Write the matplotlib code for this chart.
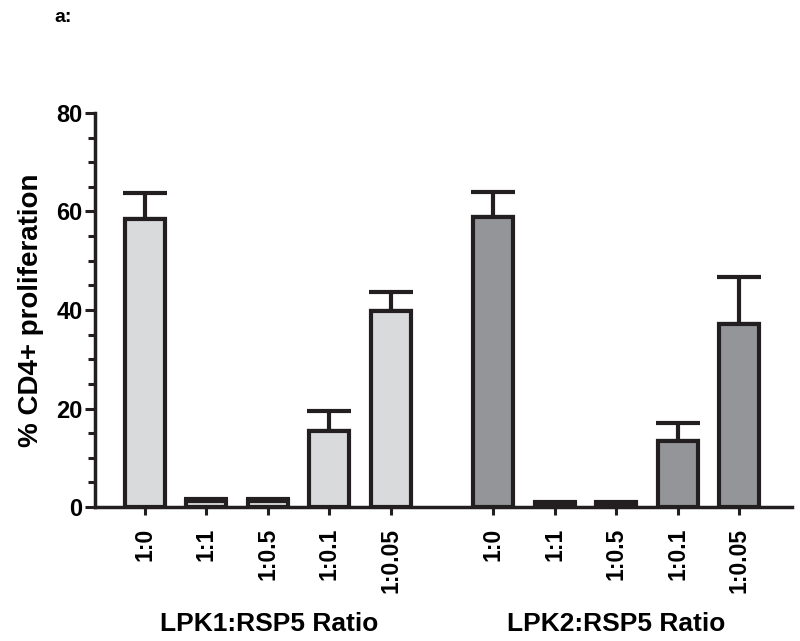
import numpy as np
import matplotlib
matplotlib.use('Agg')
import matplotlib.pyplot as plt
from matplotlib.ticker import MultipleLocator

plt.rcParams['font.family'] = ['Liberation Sans', 'DejaVu Sans']
plt.rcParams['font.weight'] = 'bold'

ratios = ['1:0', '1:1', '1:0.5', '1:0.1', '1:0.05']
lpk1_vals = [58.5, 1.3, 1.3, 15.4, 39.7]
lpk1_err = [5.3, 0.3, 0.3, 4.1, 3.9]
lpk2_vals = [58.9, 0.9, 0.9, 13.3, 37.2]
lpk2_err = [5.1, 0.2, 0.2, 3.7, 9.4]
group_labels = ['LPK1:RSP5 Ratio', 'LPK2:RSP5 Ratio']

edge = '#231f20'
light = '#d9dadc'
dark = '#939598'

fig = plt.figure(figsize=(8, 6.41), dpi=100)
ax = fig.add_axes([95/800, 1 - 507/641, (792 - 95)/800, (507 - 113)/641])

x1 = np.arange(5)
x2 = np.arange(5) + 5.66
w = 0.65

for xs, vals, err, col in [(x1, lpk1_vals, lpk1_err, light), (x2, lpk2_vals, lpk2_err, dark)]:
    # only the upper half of the error bar shows; the lower cap hides behind the bar
    ax.errorbar(xs, vals, yerr=[np.zeros(5), err], fmt='none', ecolor=edge,
                elinewidth=3, capsize=16, capthick=3, zorder=1)
    ax.bar(xs, vals, width=w, color=col, edgecolor=edge, linewidth=3, zorder=2)

ax.set_xlim(-0.81, 10.52)
ax.set_ylim(0, 80)
ax.yaxis.set_major_locator(MultipleLocator(20))
ax.yaxis.set_minor_locator(MultipleLocator(5))
ax.set_xticks(np.concatenate([x1, x2]))
ax.set_xticklabels(ratios + ratios, rotation=90, fontsize=16.5, fontweight='bold')
for t in ax.get_yticklabels():
    t.set_fontsize(17)
    t.set_fontweight('bold')

for s in ['top', 'right']:
    ax.spines[s].set_visible(False)
for s in ['left', 'bottom']:
    ax.spines[s].set_linewidth(2.5)
    ax.spines[s].set_color(edge)
ax.tick_params(axis='y', which='major', length=7, width=2.2, color=edge, pad=2)
ax.tick_params(axis='y', which='minor', length=5, width=2.2, color=edge)
ax.tick_params(axis='x', length=6, width=2.2, color=edge, pad=9)

ax.set_ylabel('% CD4+ proliferation', fontsize=20, fontweight='bold', labelpad=9)

fig.text(269/800, 1 - 624/641, group_labels[0], ha='center', va='center', fontsize=19, fontweight='bold')
fig.text(616/800, 1 - 624/641, group_labels[1], ha='center', va='center', fontsize=19, fontweight='bold')
fig.text(54/800, 1 - 18/641, 'a:', ha='left', va='center', fontsize=14, fontweight='bold')

fig.savefig('out.png', dpi=100)
